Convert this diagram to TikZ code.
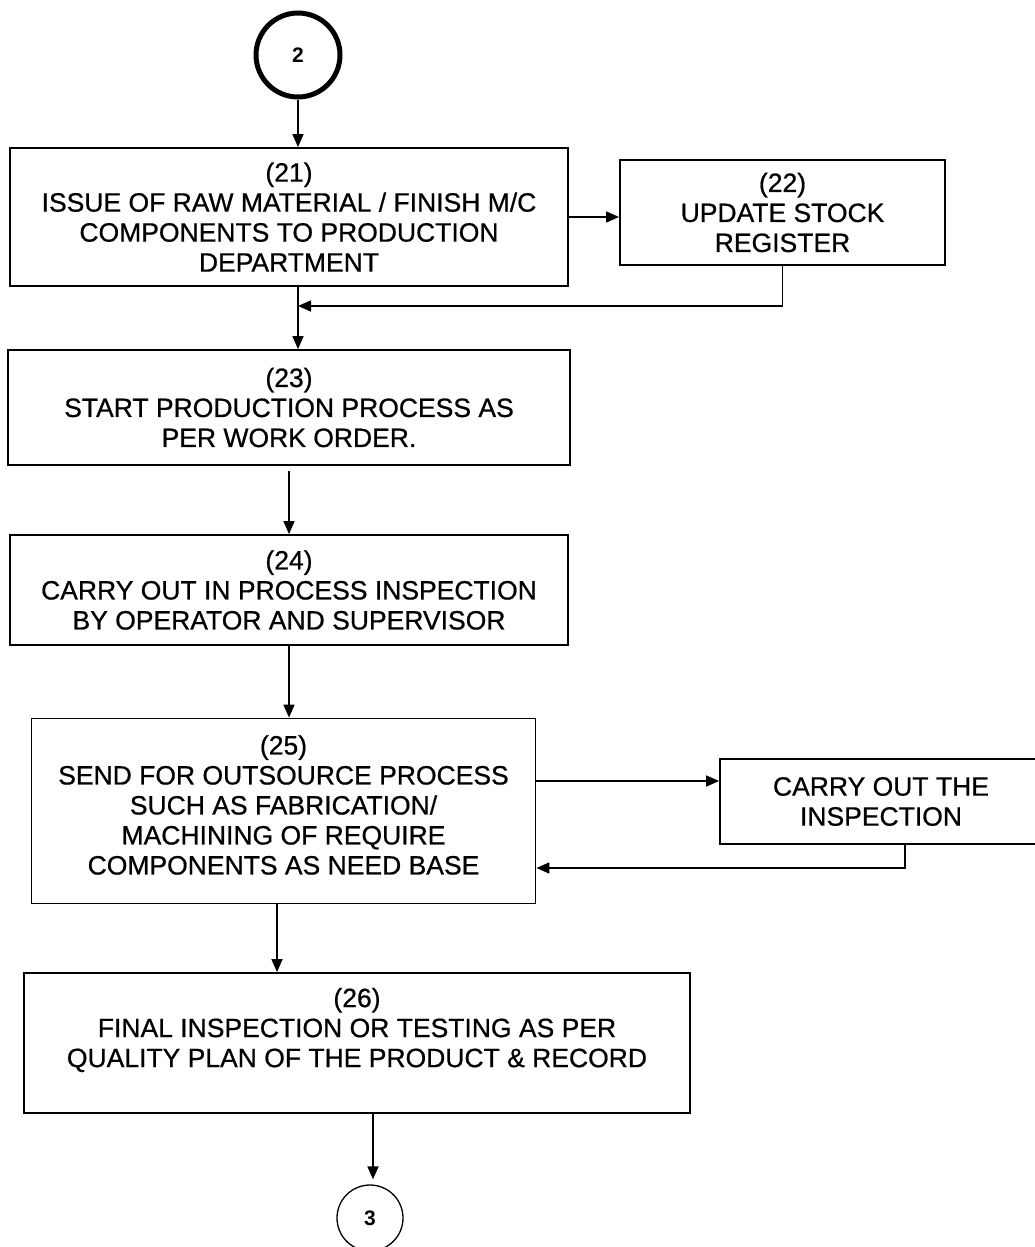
\documentclass[tikz,border=0pt]{standalone}
\usepackage{fontspec}
\setmainfont{Liberation Sans}
\newfontfamily\heavyfont[FakeBold=0.7]{Liberation Sans}
\usetikzlibrary{arrows.meta}
\begin{document}
\begin{tikzpicture}[x=1pt,y=-1pt,
  boxtext/.style={font=\heavyfont\fontsize{26.5}{30}\selectfont, align=center, inner sep=0pt},
  stepbox/.style={draw, line width=1.8pt, rectangle, inner sep=0pt, boxtext},
  conn/.style={draw, line width=1.6pt, -{Triangle[length=13pt,width=11pt]}},
  plain/.style={draw, line width=1.5pt}]
\useasboundingbox (0,0) rectangle (1035,1247);

\node[draw, circle, line width=5pt, minimum size=84pt, inner sep=0pt,
      font=\fontsize{21}{24}\selectfont\bfseries] (c2) at (298,55) {2};

\node[stepbox, minimum width=558pt, minimum height=138pt] (b21) at (289,217)
  {(21)\\ISSUE OF RAW MATERIAL / FINISH M/C\\COMPONENTS TO PRODUCTION\\DEPARTMENT};
\node[stepbox, minimum width=325pt, minimum height=105pt] (b22) at (782.5,212.5)
  {(22)\\UPDATE STOCK\\REGISTER};
\node[stepbox, minimum width=562pt, minimum height=115pt] (b23) at (289,407.5)
  {(23)\\START PRODUCTION PROCESS AS\\PER WORK ORDER.};
\node[stepbox, minimum width=558pt, minimum height=110pt] (b24) at (289,590)
  {(24)\\CARRY OUT IN PROCESS INSPECTION\\BY OPERATOR AND SUPERVISOR};
\node[stepbox, minimum width=504pt, minimum height=185pt] (b25) at (283.5,811) {};
\node[boxtext] (t25) at (283.5,805)
  {(25)\\SEND FOR OUTSOURCE PROCESS\\SUCH AS FABRICATION/\\MACHINING OF REQUIRE\\COMPONENTS AS NEED BASE};
\node[stepbox, minimum width=322pt, minimum height=85pt] (bc) at (881,801.5)
  {CARRY OUT THE\\INSPECTION};
\node[stepbox, minimum width=666pt, minimum height=140pt] (b26) at (357,1043) {};
\node[boxtext] (t26) at (357,1030)
  {(26)\\FINAL INSPECTION OR TESTING AS PER\\QUALITY PLAN OF THE PRODUCT \& RECORD};

\node[draw, circle, line width=1.3pt, minimum size=66pt, inner sep=0pt,
      font=\fontsize{21}{24}\selectfont\bfseries] (c3) at (370,1218) {3};

% connectors
\draw[conn] (c2.south) -- (c2.south |- b21.north);
\draw[conn] (b21.east) -- (b21.east -| b22.west);
\coordinate (j1) at (298,306);
\draw[conn] (b22.south) |- (j1);
\draw[conn] (b21.south -| c2.south) -- (b23.north -| c2.south);
\draw[conn] ([yshift=-5pt]b23.south) -- (b24.north);
\draw[conn] (b24.south) -- (b24.south |- b25.north);
\draw[conn] ([yshift=30pt]b25.east) -- ([yshift=30pt]b25.east -| bc.west);
\draw[conn] ([xshift=24pt]bc.south) |- ([yshift=-57pt]b25.east);
\draw[conn] ([xshift=-6.5pt]b25.south) -- ([xshift=-6.5pt]b25.south |- b26.north);
\draw[conn] ([xshift=16pt]b26.south) -- ([xshift=3pt,yshift=5pt]c3.north);
\end{tikzpicture}
\end{document}
